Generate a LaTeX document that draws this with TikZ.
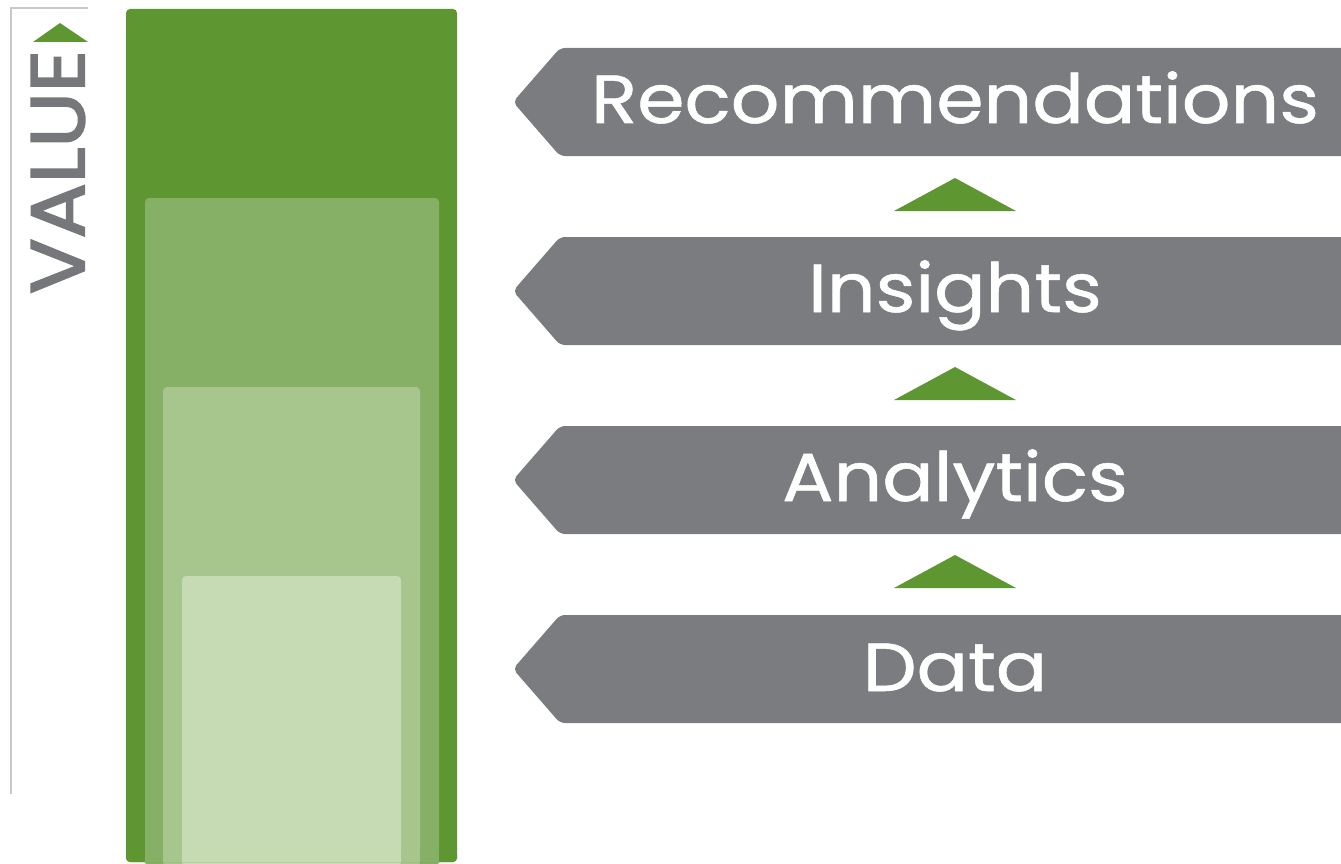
\documentclass[tikz,border=0pt]{standalone}
\usepackage{graphicx}
\usepackage{fontspec}
\setmainfont{Poppins}
\newfontfamily\valfont{Poppins}[FakeBold=2.5]
\newfontfamily\bandfont{Poppins}[FakeBold=0.8]
\definecolor{gdark}{HTML}{5E9732}
\definecolor{gmid}{HTML}{85B066}
\definecolor{glight}{HTML}{A6C68D}
\definecolor{gpale}{HTML}{C6DAB4}
\definecolor{arrowgray}{HTML}{7B7C7F}
\definecolor{linegray}{HTML}{C8C8C8}
\definecolor{valgray}{HTML}{76777A}
\tikzset{
  layer/.style={rounded corners=4pt},
  band/.style={fill=arrowgray, rounded corners=5pt},
  bandtext/.style={text=white, font=\bandfont\fontsize{68}{72}\selectfont, inner sep=0pt, anchor=base},
  uptri/.style={fill=gdark},
}
\newcommand{\bandlabel}[1]{\scalebox{1.12}[1]{#1}}
\begin{document}
\begin{tikzpicture}[x=1pt,y=-1pt]
\useasboundingbox (0,0) rectangle (1341,864);
% value axis
\draw[linegray, line width=1.6pt] (88,8) -- (11,8) -- (11,794);
\fill[uptri] (33,42) -- (60,23) -- (88,42) -- cycle;
\node[rotate=90, text=valgray, font=\valfont\fontsize{76}{80}\selectfont, inner sep=0pt] (value) at (58,172) {\scalebox{1.08}[1]{VALUE}};
% stacked bars
\fill[gdark, layer] (126,9) rectangle (457,862);
\fill[gmid, layer] (145,198) rectangle (439,866);
\fill[glight, layer] (163,387) rectangle (420,866);
\fill[gpale, layer] (182,576) rectangle (401,866);
\fill[gdark, rounded corners=4pt] (126,850) rectangle (457,862);
\fill[gmid] (145,850) rectangle (439,862);
\fill[glight] (163,850) rectangle (420,862);
\fill[gpale] (182,850) rectangle (401,862);
% bands
\foreach \y in {102, 291, 480, 669}{
  \fill[band] (1360,\y-54) -- (560,\y-54) -- (513,\y) -- (560,\y+54) -- (1360,\y+54);
}
\node[bandtext] (rec) at (955,123) {\bandlabel{Recommendations}};
\node[bandtext] (ins) at (955,312) {\bandlabel{Insights}};
\node[bandtext] (ana) at (955,501) {\bandlabel{Analytics}};
\node[bandtext] (dat) at (955,691) {\bandlabel{Data}};
% triangles
\foreach \y in {178,367,555}{
  \fill[uptri] (894,\y+33) -- (955,\y) -- (1016,\y+33) -- cycle;
}
\end{tikzpicture}
\end{document}
